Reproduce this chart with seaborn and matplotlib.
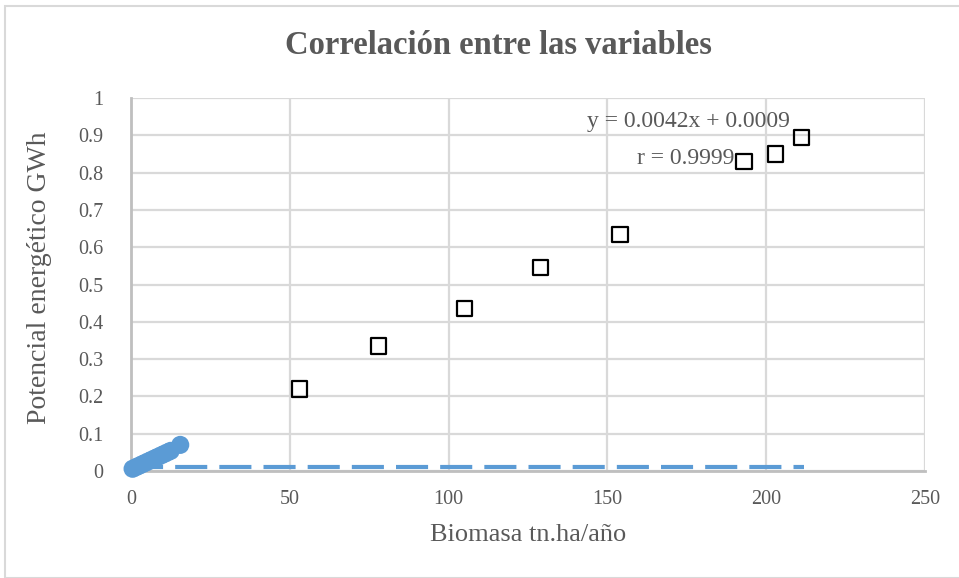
import matplotlib
matplotlib.use("Agg")
import matplotlib.pyplot as plt
import seaborn as sns
import pandas as pd
from matplotlib.patches import Rectangle

# ---- data ----
biomasa = [0.5, 1.5, 2.5, 3.5, 4.5, 5.5, 6.5, 7.5, 8.5, 9.5, 10.5, 11.5, 12.5, 15.5]
potencial = [0.006, 0.010, 0.014, 0.018, 0.022, 0.026, 0.030, 0.034, 0.038, 0.042, 0.046, 0.050, 0.054, 0.070]

trend_x = [0, 212]
trend_y = [0.011, 0.011]

marker_x = [53, 78, 105, 129, 154, 193, 203, 211]
marker_y = [0.22, 0.335, 0.435, 0.545, 0.635, 0.83, 0.85, 0.895]

title = "Correlación entre las variables"
xlabel = "Biomasa tn.ha/año"
ylabel = "Potencial energético GWh"
eq_text = "y = 0.0042x + 0.0009"
r_text = "r = 0.9999"

x_ticks = [0, 50, 100, 150, 200, 250]
y_ticks = [0, 0.1, 0.2, 0.3, 0.4, 0.5, 0.6, 0.7, 0.8, 0.9, 1]
y_tick_labels = ["0", "0.1", "0.2", "0.3", "0.4", "0.5", "0.6", "0.7", "0.8", "0.9", "1"]

# ---- style ----
sns.set_theme(style="white")
plt.rcParams["font.family"] = ["Liberation Serif", "DejaVu Serif"]
txt = "#595959"
blue = "#5b9bd5"

fig = plt.figure(figsize=(9.59, 5.78), dpi=100)
fig.patches.append(Rectangle((5 / 959, 0), 1, 1 - 6 / 578, transform=fig.transFigure,
                             fill=False, edgecolor="#d9d9d9", linewidth=1.5, zorder=0))
ax = fig.add_axes([131 / 959, (578 - 471) / 578, (925 - 131) / 959, (471 - 98) / 578])

df = pd.DataFrame({"x": biomasa, "y": potencial})
tdf = pd.DataFrame({"x": trend_x, "y": trend_y})
mdf = pd.DataFrame({"x": marker_x, "y": marker_y})

sns.lineplot(data=tdf, x="x", y="y", ax=ax, color=blue, linewidth=3,
             dashes=False, zorder=3)
ax.lines[-1].set_dashes([7.7, 2.9])
sns.scatterplot(data=df, x="x", y="y", ax=ax, color=blue, s=170, edgecolor="none",
                zorder=4, clip_on=False)
sns.scatterplot(data=mdf, x="x", y="y", ax=ax, marker="s", s=120, facecolor="none",
                edgecolor="black", linewidth=1.6, zorder=4)

ax.set_xlim(0, 250)
ax.set_ylim(0, 1)
ax.set_xticks(x_ticks)
ax.set_yticks(y_ticks)
ax.set_yticklabels(y_tick_labels)
ax.grid(True, color="#d9d9d9", linewidth=1.6)
ax.set_axisbelow(True)
for s in ["top", "right"]:
    ax.spines[s].set_visible(False)
for s in ["left", "bottom"]:
    ax.spines[s].set_color("#bfbfbf")
    ax.spines[s].set_linewidth(2)
ax.tick_params(axis="both", length=0, labelsize=14.5, colors=txt)
ax.tick_params(axis="x", pad=14)
ax.tick_params(axis="y", pad=20)

ax.set_xlabel(xlabel, fontsize=19, color=txt)
ax.set_ylabel(ylabel, fontsize=20, color=txt)
ax.xaxis.set_label_coords((528 - 131) / 794, (471 - 535) / 373)
ax.yaxis.set_label_coords((40 - 131) / 794, (471 - 278) / 373)
ax.xaxis.label.set_va("center")
ax.yaxis.label.set_va("center")

fig.text(498 / 959, 1 - 45 / 578, title, ha="center", va="center", fontsize=23.5,
         fontweight="bold", color=txt)

fig.text(688 / 959, 1 - 122 / 578, eq_text, ha="center", va="center", fontsize=17, color=txt)
fig.text(686 / 959, 1 - 158 / 578, r_text, ha="center", va="center", fontsize=17, color=txt)

fig.savefig("out.png", dpi=100)
